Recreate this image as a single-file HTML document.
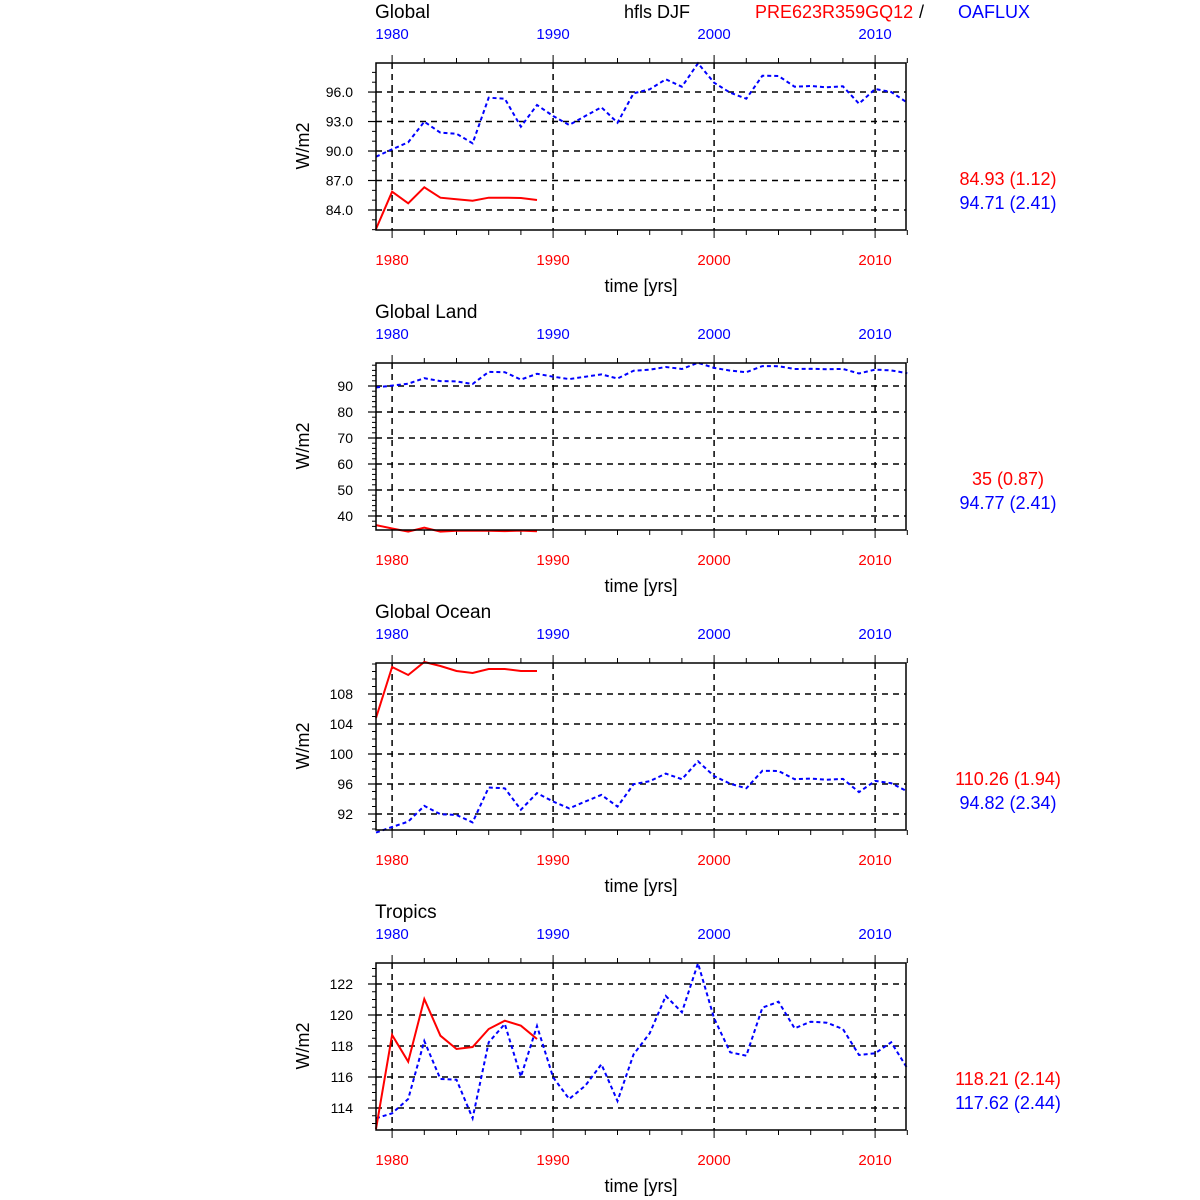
<!DOCTYPE html>
<html><head><meta charset="utf-8"><style>
html,body{margin:0;padding:0;background:#fff;}
svg{display:block;font-family:"Liberation Sans",sans-serif;}
</style></head><body>
<svg id="s" width="1200" height="1200" xmlns="http://www.w3.org/2000/svg"></svg>
<script>
const s=document.getElementById('s');let h='';
const X0=376,X1=906,dx=16.1;
const xs=i=>X0+i*dx;
const top4=[63,363,663,963];
h+='<text x="375" y="18" font-size="19">Global</text>';
h+='<text x="624" y="18" font-size="18">hfls DJF</text>';
h+='<text x="755" y="18" font-size="18" fill="#f00">PRE623R359GQ12</text>';
h+='<text x="919" y="18" font-size="18">/</text>';
h+='<text x="958" y="18" font-size="18" fill="#00f">OAFLUX</text>';
const titles=[null,'Global Land','Global Ocean','Tropics'];
const bz=[305,283,262,200,233,236,265,128,131,215,150,183,210,183,157,203,115,103,73,95,25,83,113,131,62,63,95,93,97,94,146,102,111,143];
const gv=bz.map(z=>84+(210-(55+z/3))/9.83);
const panels=[
 {ticks:[[96,'96.0'],[93,'93.0'],[90,'90.0'],[87,'87.0'],[84,'84.0']],y:v=>210-(v-84)*9.83,minor:1,lo:82,hi:99,
  blue:bz.map(z=>55+z/3),red:[522,410,445,397,428,433,437,428,428,429,435].map(z=>55+z/3),st:['84.93 (1.12)','94.71 (2.41)']},
 {ticks:[[90,'90'],[80,'80'],[70,'70'],[60,'60'],[50,'50'],[40,'40']],y:v=>386-(v-90)*2.6,minor:2,lo:36,hi:98,
  blue:null,redv:[36.5,35.2,34,35.5,34,34.3,34.4,34.3,34.2,34.4,34.1],st:['35 (0.87)','94.77 (2.41)']},
 {ticks:[[108,'108'],[104,'104'],[100,'100'],[96,'96'],[92,'92']],y:v=>784-(v-96)*7.5,minor:1,lo:90,hi:112,
  blue:null,red:[718,667,675,662,666,671,673,669,669,671,671],st:['110.26 (1.94)','94.82 (2.34)']},
 {ticks:[[122,'122'],[120,'120'],[118,'118'],[116,'116'],[114,'114']],y:v=>1108-(v-114)*15.5,minor:0.5,lo:113,hi:123,
  blue:[490,475,432,258,372,374,490,262,207,365,213,367,432,392,328,438,298,235,123,172,25,190,292,302,158,140,220,200,203,222,300,295,262,340].map(z=>955+z/3),
  red:[522,240,320,132,242,282,276,222,197,212,252].map(z=>955+z/3),st:['118.21 (2.14)','117.62 (2.44)']}
];
panels[1].blue=gv.map(v=>panels[1].y(v));
panels[2].blue=gv.map(v=>panels[2].y(v+0.1));
panels[1].red=panels[1].redv.map(v=>panels[1].y(v));
panels.forEach((p,k)=>{
 const T=top4[k],B=T+167;
 if(titles[k])h+=`<text x="375" y="${T-45}" font-size="19">${titles[k]}</text>`;
 p.ticks.forEach(t=>{const y=p.y(t[0]);h+=`<line x1="${X0}" x2="${X1}" y1="${y}" y2="${y}" stroke="#000" stroke-width="1.5" stroke-dasharray="6,5"/>`;
  h+=`<line x1="${X0-8}" x2="${X0}" y1="${y}" y2="${y}" stroke="#000" stroke-width="1.2"/>`;
  h+=`<text x="353" y="${y+5}" font-size="14" text-anchor="end">${t[1]}</text>`;});
 for(let v=Math.ceil(p.lo);v<=p.hi;v+=p.minor){const y=p.y(v);if(y>T&&y<B)h+=`<line x1="${X0-4}" x2="${X0}" y1="${y}" y2="${y}" stroke="#000" stroke-width="1"/>`;}
 [1980,1990,2000,2010].forEach(yr=>{const x=xs(yr-1979);
  h+=`<line x1="${x}" x2="${x}" y1="${T}" y2="${B}" stroke="#000" stroke-width="1.5" stroke-dasharray="6,5"/>`;
  h+=`<text x="${x}" y="${T-24}" font-size="15" fill="#00f" text-anchor="middle">${yr}</text>`;
  h+=`<text x="${x}" y="${B+35}" font-size="15" fill="#f00" text-anchor="middle">${yr}</text>`;});
 for(let yr=1980;yr<=2012;yr+=2){const x=xs(yr-1979);const L=(yr%10==0)?8:5;
  h+=`<line x1="${x}" x2="${x}" y1="${T-L}" y2="${T}" stroke="#000" stroke-width="1"/><line x1="${x}" x2="${x}" y1="${B}" y2="${B+L}" stroke="#000" stroke-width="1"/>`;}
 h+=`<polyline fill="none" stroke="#00f" stroke-width="2" stroke-dasharray="4,3" points="${p.blue.map((y,i)=>xs(i)+','+y.toFixed(1)).join(' ')}"/>`;
 h+=`<polyline fill="none" stroke="#f00" stroke-width="2" points="${p.red.map((y,i)=>xs(i)+','+y.toFixed(1)).join(' ')}"/>`;
 h+=`<rect x="${X0}" y="${T}" width="${X1-X0}" height="${B-T}" fill="none" stroke="#000" stroke-width="1.5"/>`;
 h+=`<text x="641" y="${B+62}" font-size="18" text-anchor="middle">time [yrs]</text>`;
 const cy=T+83;
 h+=`<text transform="translate(309,${cy}) rotate(-90)" font-size="18" text-anchor="middle">W/m2</text>`;
 h+=`<text x="1008" y="${T+122}" font-size="18" fill="#f00" text-anchor="middle">${p.st[0]}</text>`;
 h+=`<text x="1008" y="${T+146}" font-size="18" fill="#00f" text-anchor="middle">${p.st[1]}</text>`;
});
s.innerHTML=h;
</script>
</body></html>
